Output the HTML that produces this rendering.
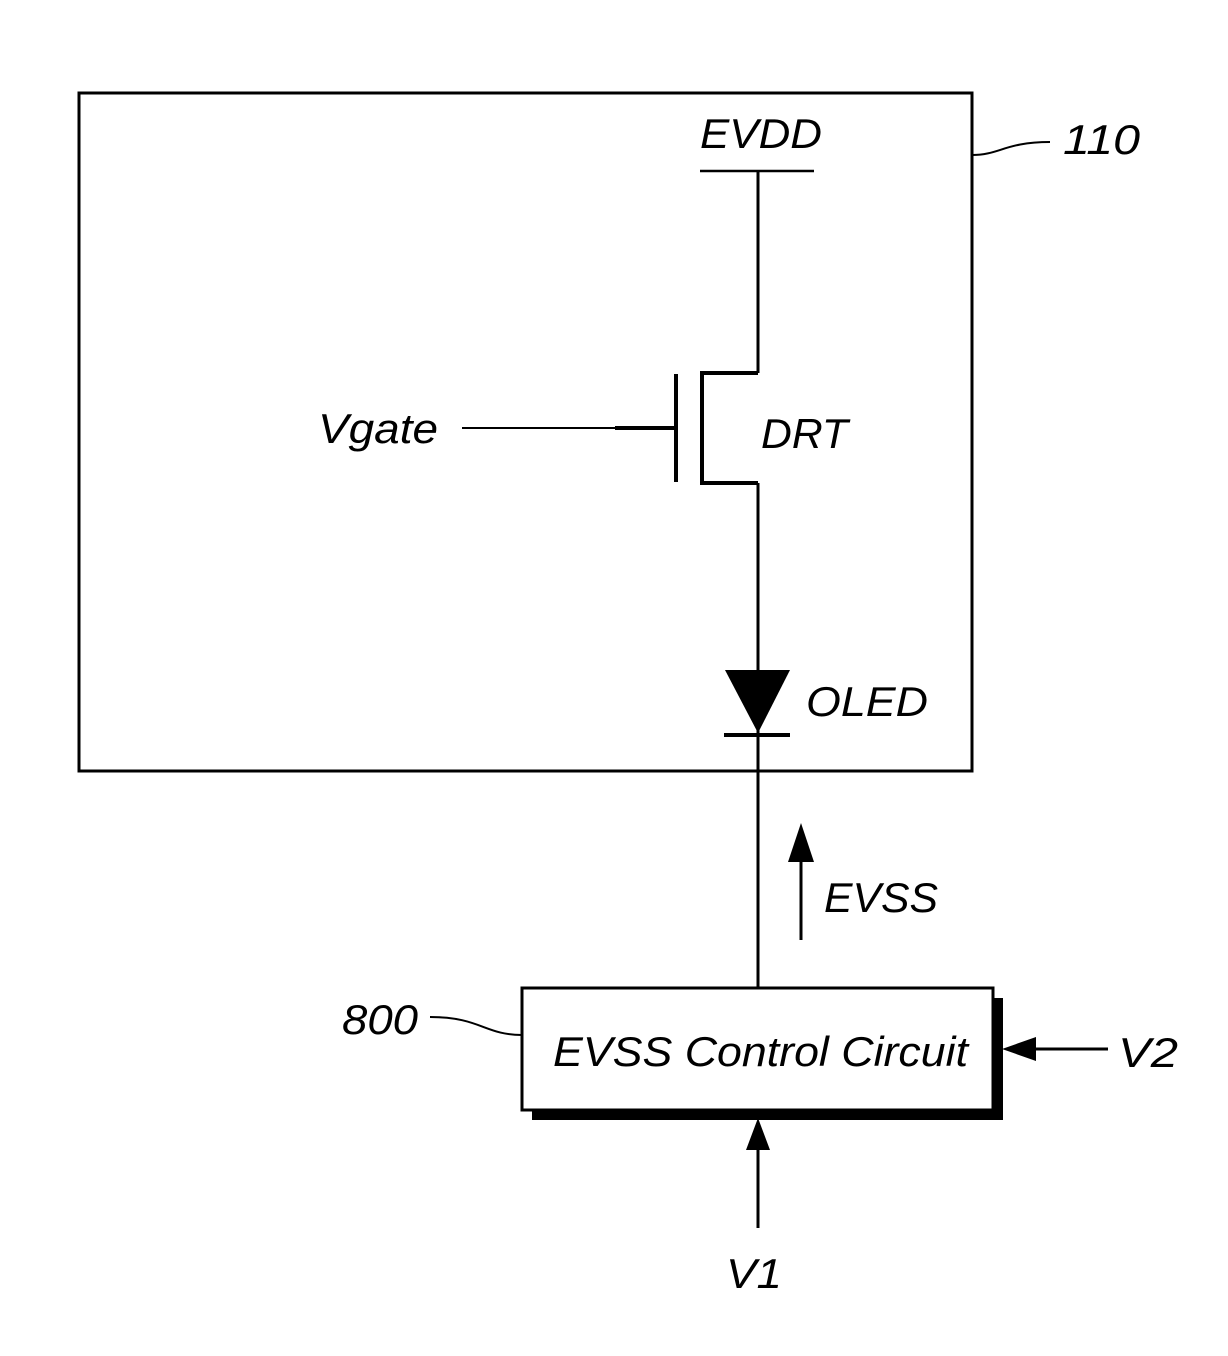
<!DOCTYPE html>
<html><head><meta charset="utf-8"><style>
html,body{margin:0;padding:0;background:#fff;}
svg{display:block;}
text{font-family:"Liberation Sans",sans-serif;font-style:italic;fill:#000;}
</style></head><body>
<svg width="1228" height="1356" viewBox="0 0 1228 1356" xmlns="http://www.w3.org/2000/svg">
<g stroke="#000" fill="none">
<rect x="79" y="93" width="893" height="678" stroke-width="3"/>
<path d="M972 155 C1000 155 1005 142 1050 142" stroke-width="2"/>
<line x1="700" y1="171" x2="814" y2="171" stroke-width="2.5"/>
<line x1="758" y1="171" x2="758" y2="373" stroke-width="3"/>
<polyline points="758,373 702,373 702,483 758,483" stroke-width="4"/>
<line x1="676" y1="374" x2="676" y2="482" stroke-width="4"/>
<line x1="462" y1="428" x2="615" y2="428" stroke-width="2"/>
<line x1="615" y1="428" x2="676" y2="428" stroke-width="4"/>
<line x1="758" y1="483" x2="758" y2="988" stroke-width="3"/>
<line x1="724" y1="735" x2="790" y2="735" stroke-width="4"/>
<line x1="801" y1="860" x2="801" y2="940" stroke-width="3"/>
<path d="M430 1017 C480 1017 485 1035 522 1035" stroke-width="2"/>
<line x1="758" y1="1150" x2="758" y2="1228" stroke-width="3"/>
<line x1="1030" y1="1049" x2="1108" y2="1049" stroke-width="3"/>
</g>
<polygon points="725,670 790,670 758,733" fill="#000"/>
<polygon points="801,823 788,862 814,862" fill="#000"/>
<rect x="532" y="998" width="471" height="122" fill="#000"/>
<rect x="522" y="988" width="471" height="122" fill="#fff" stroke="#000" stroke-width="3"/>
<polygon points="746,1150 770,1150 758,1118" fill="#000"/>
<polygon points="1002,1049 1036,1037 1036,1061" fill="#000"/>
<text x="700" y="148" font-size="42" textLength="122" lengthAdjust="spacingAndGlyphs">EVDD</text>
<text x="1063" y="154" font-size="42" textLength="77" lengthAdjust="spacingAndGlyphs">110</text>
<text x="318" y="443" font-size="42" textLength="120" lengthAdjust="spacingAndGlyphs">Vgate</text>
<text x="761" y="448" font-size="42" textLength="87" lengthAdjust="spacingAndGlyphs">DRT</text>
<text x="806" y="716" font-size="42" textLength="122" lengthAdjust="spacingAndGlyphs">OLED</text>
<text x="824" y="912" font-size="42" textLength="114" lengthAdjust="spacingAndGlyphs">EVSS</text>
<text x="342" y="1034" font-size="42" textLength="76" lengthAdjust="spacingAndGlyphs">800</text>
<text x="553" y="1066" font-size="42" textLength="415" lengthAdjust="spacingAndGlyphs">EVSS Control Circuit</text>
<text x="1118" y="1067" font-size="42" textLength="60" lengthAdjust="spacingAndGlyphs">V2</text>
<text x="726" y="1288" font-size="42" textLength="56" lengthAdjust="spacingAndGlyphs">V1</text>
</svg>
</body></html>
